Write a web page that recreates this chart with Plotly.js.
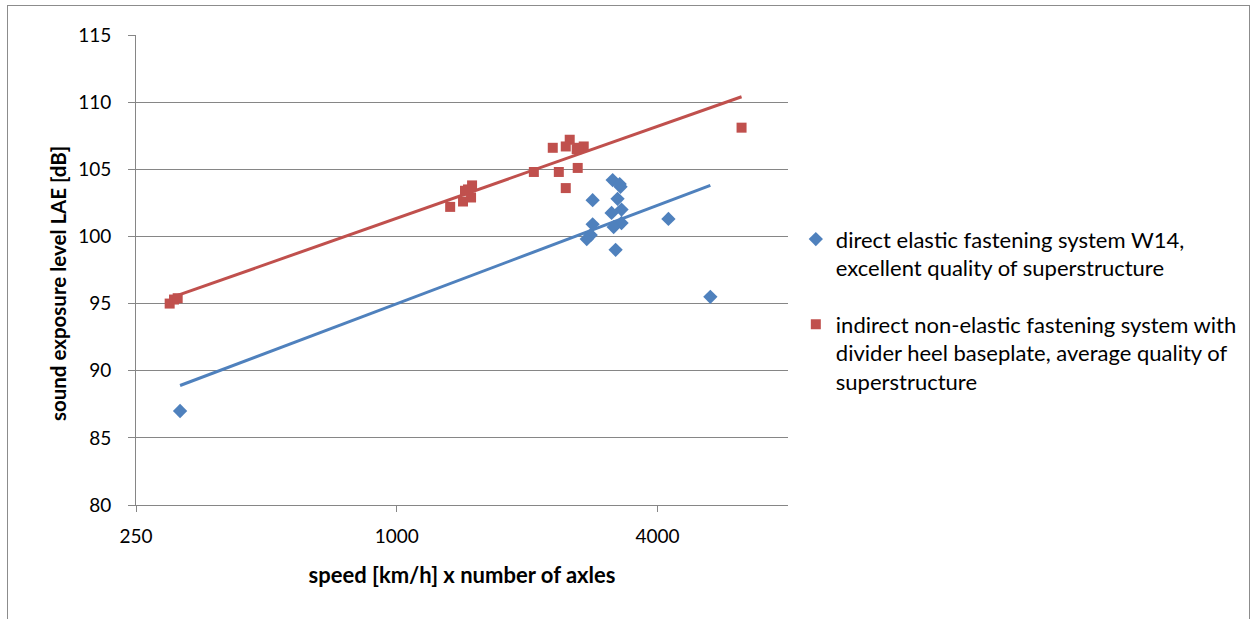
<!DOCTYPE html>
<html>
<head>
<meta charset="utf-8">
<script src="https://cdn.plot.ly/plotly-3.0.1.min.js"></script>
<style>
  html, body { margin: 0; padding: 0; background: #fff; }
  #wrap { position: relative; width: 1255px; height: 619px; overflow: hidden; }
  #chart { position: absolute; left: 0; top: 0; width: 1255px; height: 619px; }
  #frame { position: absolute; left: 7px; top: 5px; width: 1241px; height: 700px; border: 1px solid #8c8c8c; pointer-events: none; }
</style>
</head>
<body>
<div id="wrap">
  <div id="chart"></div>
  <div id="frame"></div>
</div>
<script>
// Series 1: direct elastic fastening system W14
const blueX = [316, 3150, 3285, 3270, 2832, 3233, 3302, 3132, 3302, 3167, 2832, 2803, 2745, 3200, 4237, 5295];
const blueY = [87.0, 104.2, 103.7, 103.9, 102.7, 102.8, 102.0, 101.75, 101.0, 100.7, 100.9, 100.1, 99.8, 99.0, 101.3, 95.5];

// Series 2: indirect non-elastic fastening system
const redX = [299, 306, 312, 1328, 1422, 1437, 1484, 1492, 1460, 2072, 2291, 2366, 2455, 2507, 2455, 2602, 2701, 2616, 2630, 6250];
const redY = [95.0, 95.3, 95.4, 102.2, 102.6, 103.4, 102.9, 103.8, 103.5, 104.8, 106.6, 104.8, 103.6, 107.2, 106.7, 106.5, 106.7, 105.1, 106.6, 108.1];

// Logarithmic trendlines (end points)
const blueTrendX = [316, 5295];
const blueTrendY = [88.9, 103.8];
const redTrendX = [299, 6250];
const redTrendY = [95.4, 110.4];

// Axis ticks
const xTickVals = [250, 1000, 4000];
const xTickText = ['250', '1000', '4000'];
const yTickVals = [80, 85, 90, 95, 100, 105, 110, 115];

const xTitle = 'speed [km/h] x number of axles';
const yTitle = 'sound exposure level LAE [dB]';
const blueName = 'direct elastic fastening system W14,<br>excellent quality of superstructure';
const redName = 'indirect non-elastic fastening system with<br>divider heel baseplate, average quality of<br>superstructure';

const BLUE = '#4F81BD';
const RED = '#C0504D';
const FONT = 'Lato, "Open Sans", sans-serif';

const traces = [
  {
    x: blueTrendX, y: blueTrendY, type: 'scatter', mode: 'lines',
    line: { color: BLUE, width: 3 }, showlegend: false, hoverinfo: 'skip'
  },
  {
    x: redTrendX, y: redTrendY, type: 'scatter', mode: 'lines',
    line: { color: RED, width: 3 }, showlegend: false, hoverinfo: 'skip'
  },
  {
    x: blueX, y: blueY, type: 'scatter', mode: 'markers', name: blueName,
    legendgroup: 'a',
    marker: { symbol: 'diamond', size: 11, color: BLUE }
  },
  {
    x: redX, y: redY, type: 'scatter', mode: 'markers', name: redName,
    legendgroup: 'b',
    marker: { symbol: 'square', size: 10, color: RED }
  }
];

const layout = {
  width: 1255, height: 619,
  margin: { l: 136, r: 467, t: 35, b: 114, autoexpand: false },
  paper_bgcolor: '#ffffff', plot_bgcolor: '#ffffff',
  font: { family: FONT, color: '#000', size: 19 },
  showlegend: true,
  legend: {
    x: 1.012, xanchor: 'left', y: 0.61, yanchor: 'top',
    font: { family: FONT, size: 22, color: '#000' },
    traceorder: 'grouped', tracegroupgap: 25, valign: 'top',
    bgcolor: 'rgba(0,0,0,0)', itemwidth: 30
  },
  xaxis: {
    type: 'log',
    range: [Math.log10(250), Math.log10(8000)],
    tickvals: xTickVals, ticktext: xTickText,
    showgrid: false, zeroline: false,
    showline: true, linecolor: '#868686', linewidth: 1,
    ticks: 'outside', ticklen: 6, tickcolor: '#868686',
    ticklabelstandoff: 8,
    tickfont: { family: FONT, size: 19, color: '#000' },
    title: { text: xTitle, font: { family: FONT, size: 22, color: '#000', weight: 'bold' }, standoff: 21 }
  },
  yaxis: {
    range: [80, 115],
    tickvals: yTickVals,
    showgrid: true, gridcolor: '#868686', gridwidth: 1,
    zeroline: false,
    showline: true, linecolor: '#868686', linewidth: 1,
    ticks: 'outside', ticklen: 7, tickcolor: '#868686',
    ticklabelstandoff: 13,
    tickfont: { family: FONT, size: 19, color: '#000' }
  },
  annotations: [
    {
      text: yTitle, textangle: -90, showarrow: false,
      xref: 'paper', yref: 'paper', x: -0.1196, y: 0.47,
      xanchor: 'center', yanchor: 'middle',
      font: { family: FONT, size: 20.5, color: '#000', weight: 'bold' }
    }
  ]
};

Plotly.newPlot('chart', traces, layout, { displayModeBar: false, staticPlot: true });
</script>
</body>
</html>
